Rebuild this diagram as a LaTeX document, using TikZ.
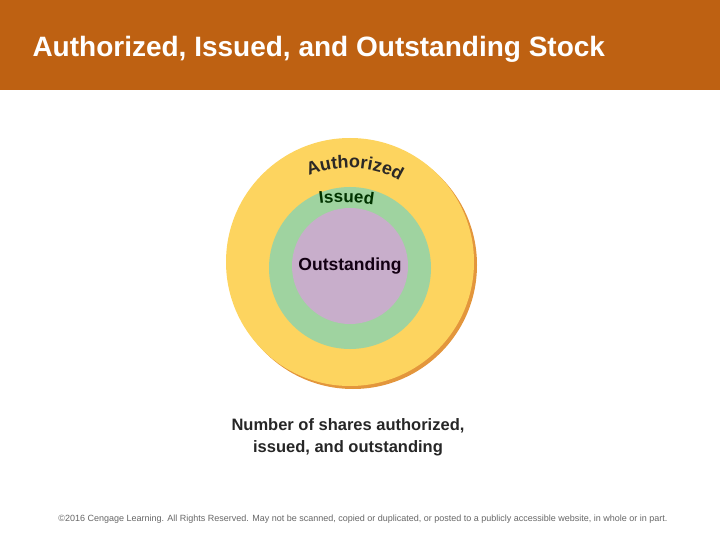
\documentclass[tikz,border=0pt]{standalone}
\usepackage{fontspec}
\setmainfont{Liberation Sans}
\usetikzlibrary{positioning,decorations.text}
\definecolor{bandcolor}{HTML}{BE6112}
\definecolor{authcolor}{HTML}{FDD45F}
\definecolor{shadecolor}{HTML}{E3963C}
\definecolor{isscolor}{HTML}{9FD3A0}
\definecolor{outcolor}{HTML}{C8AECB}
\newcommand{\authfont}{\bfseries\fontsize{18}{18}\selectfont\color{black!92!olive}}
\newcommand{\issfont}{\bfseries\fontsize{17}{17}\selectfont\color{black!80!green}}

\begin{document}
\begin{tikzpicture}[x=1pt, y=-1pt,
  ring/.style={circle, inner sep=0pt, draw=none},
  ringlbl/.style={font=\bfseries\fontsize{17.5}{17.5}\selectfont, text=black!85!violet},
  caption/.style={font=\bfseries\fontsize{16.5}{22}\selectfont, align=center, text=black!85},
  arclbl/.style={decorate, decoration={text along path, text align=center}},
]
  \useasboundingbox (0,0) rectangle (720,540);

  % ── Title band ─────────────────
  \fill[bandcolor] (0,0) rectangle (720,90);
  \node[anchor=base west, text=white, font=\bfseries\fontsize{28}{28}\selectfont]
        (title) at (29,57) {Authorized, Issued, and Outstanding Stock};

  % ── Circles ────────────────────
  \node[ring, fill=shadecolor, minimum size=248pt] (shade) at (353,265) {};
  \node[ring, fill=authcolor, minimum size=248pt] (auth) at (350,262) {};
  \node[ring, fill=isscolor, minimum size=162pt] (iss) at (350,268) {};
  \node[ring, fill=outcolor, minimum size=116pt] (outs) at (350,266) {};
  \node[ringlbl] (outslbl) at (outs.center) {Outstanding};

  % ── Curved labels ──────────────
  \coordinate (authL) at (303,179);
  \coordinate (authR) at (405,185);
  \path[arclbl, decoration={text={|\authfont|Authorized}}]
        (authL) .. controls (330,164) and (378,163) .. (authR);
  \coordinate (issL) at (312,205);
  \coordinate (issR) at (381,206);
  \path[arclbl, decoration={text={|\issfont|Issued}}]
        (issL) .. controls (334,201) and (358,201) .. (issR);

  % ── Caption and footer ─────────
  \node[caption] (cap) at (348,437)
        {Number of shares authorized,\\issued, and outstanding};
  \node[font=\fontsize{9}{10}\selectfont, text=black!60] (foot) at (363,519)
        {\textcopyright 2016 Cengage Learning. All Rights Reserved. May not be scanned, copied or duplicated, or posted to a publicly accessible website, in whole or in part.};
\end{tikzpicture}
\end{document}
